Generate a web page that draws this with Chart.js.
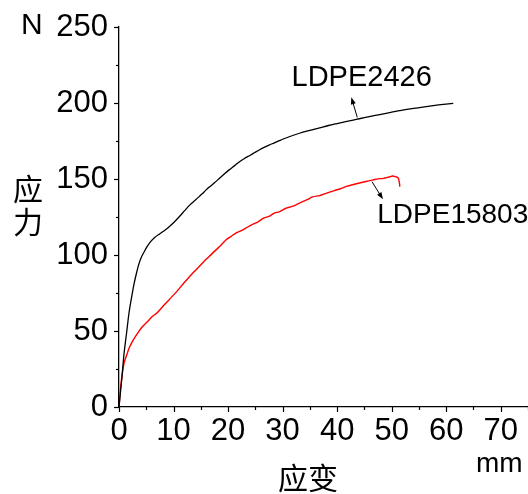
<!DOCTYPE html>
<html>
<head>
<meta charset="utf-8">
<script src="https://cdn.jsdelivr.net/npm/chart.js@4/dist/chart.umd.min.js"></script>
<style>
html,body{margin:0;padding:0;background:#fff;}
#wrap{width:528px;height:494px;position:relative;}
</style>
</head>
<body>
<div id="wrap"><canvas id="c" width="528" height="494"></canvas></div>
<script>
// Data (strain mm, force N)
const blackX = [0,0.5,0.92,1.4,1.84,2.3,2.76,3.2,3.68,4.1,4.6,5.2,5.8,6.6,7.5,8.3,9,10,11,12,13,13.9,14.7,15.6,16.5,17.5,18.4,19.3,20.2,21.2,22.1,23,24,24.9,25.7,26.6,27.5,28.5,29.4,31.2,33.1,35,36.8,38.4,40,41.8,43.5,45.2,47,49.2,51.5,53.7,56,58.6,61.3];
const blackY = [0,18,35,49,62,72,81,88,94.5,98.5,102,105.8,108.8,111.7,114,116,118,121.2,125,129,133,135.8,138.4,141.5,144.5,147.5,150.4,153.3,156,158.8,161.4,163.5,165.5,167.4,169.1,170.8,172.3,173.8,175.2,177.8,180.1,182,183.7,185.2,186.5,187.9,189.2,190.5,191.8,193.4,195,196.3,197.5,198.7,199.8];
const redX = [0,0.3,0.6,0.92,1.4,1.84,2.6,3.4,4.2,5.2,6.1,7,8.4,9.5,10.7,11.9,13,13.8,14.7,15.5,16.2,17.2,18.5,19.6,20.5,21.5,22.4,23.3,24.5,25.5,26.5,27.6,28.5,29.4,30.5,31.9,33.1,34.5,35.5,36.8,38,39.5,40.6,41.7,43,44.5,45.6,46.6,47.5,48.5,49.5,50.2,50.8,51.2,51.4,51.5];
const redY = [0,13,22,28.7,34,38.6,44,48.5,52.5,56.1,59.5,62,67.6,71.8,76.4,81.6,86,89.1,92.4,95.4,97.9,101.4,105.7,109.9,112.1,114.6,116,117.8,120.1,121.8,124.2,125.6,127.6,128.4,130.6,132.1,134.2,136.4,138.2,139.1,140.6,142.4,143.6,145.1,146.4,147.7,148.6,149.4,150.1,150.4,151.3,152,151.4,150.6,148,145];
const xTicks = [0,10,20,30,40,50,60,70];
const yTicks = [0,50,100,150,200,250];
const seriesNames = ['LDPE2426','LDPE15803'];
// annotation anchors in data units: [textX, textY, arrowTailX, arrowTailY, arrowHeadX, arrowHeadY]
const notes = [
  [44.5, 216.4, 43.7, 190.5, 42.6, 203.8],
  [61.2, 126.3, 46.4, 148.2, 48.4, 136.6]
];

const toPts = (xs, ys) => xs.map((x, i) => ({x: x, y: ys[i]}));

const FONT = 'Arial, "Liberation Sans", sans-serif';
const CJK = '"Noto Sans CJK SC", sans-serif';

const decor = {
  id: 'decor',
  afterDraw(chart) {
    const ctx = chart.ctx;
    const xs = chart.scales.x, ys = chart.scales.y;
    ctx.save();
    ctx.strokeStyle = '#000';
    ctx.lineWidth = 1.2;
    for (let v = 0; v <= 75; v += 5) {
      const px = Math.round(xs.getPixelForValue(v)) + 0.5;
      const len = (v % 10 === 0) ? 5 : 3;
      ctx.beginPath(); ctx.moveTo(px, ys.bottom); ctx.lineTo(px, ys.bottom + len); ctx.stroke();
    }
    for (let v = 0; v <= 250; v += 25) {
      const py = Math.round(ys.getPixelForValue(v)) + 0.5;
      const len = (v % 50 === 0) ? 5 : 3;
      ctx.beginPath(); ctx.moveTo(xs.left, py); ctx.lineTo(xs.left - len, py); ctx.stroke();
    }
    ctx.fillStyle = '#000';
    ctx.textAlign = 'center';
    ctx.textBaseline = 'middle';
    notes.forEach((n, i) => {
      ctx.font = (i === 0 ? '29px ' : '28px ') + FONT;
      ctx.fillText(seriesNames[i], xs.getPixelForValue(n[0]), ys.getPixelForValue(n[1]));
      const x1 = xs.getPixelForValue(n[2]), y1 = ys.getPixelForValue(n[3]);
      const x2 = xs.getPixelForValue(n[4]), y2 = ys.getPixelForValue(n[5]);
      const a = Math.atan2(y2 - y1, x2 - x1);
      ctx.lineWidth = 1;
      ctx.beginPath(); ctx.moveTo(x1, y1); ctx.lineTo(x2 - 4 * Math.cos(a), y2 - 4 * Math.sin(a)); ctx.stroke();
      ctx.beginPath();
      ctx.moveTo(x2, y2);
      ctx.lineTo(x2 - 7 * Math.cos(a) + 2.5 * Math.sin(a), y2 - 7 * Math.sin(a) - 2.5 * Math.cos(a));
      ctx.lineTo(x2 - 7 * Math.cos(a) - 2.5 * Math.sin(a), y2 - 7 * Math.sin(a) + 2.5 * Math.cos(a));
      ctx.closePath(); ctx.fill();
    });
    ctx.font = '30px ' + FONT;
    ctx.textAlign = 'left';
    ctx.fillText('N', 21, 26);
    ctx.font = '28px ' + FONT;
    ctx.fillText('mm', 476, 464);
    ctx.font = '30px ' + CJK;
    ctx.textAlign = 'center';
    ctx.fillText('应', 28, 189);
    ctx.fillText('力', 28, 222);
    ctx.fillText('应变', 308, 478);
    ctx.restore();
  }
};

new Chart(document.getElementById('c'), {
  type: 'scatter',
  data: {
    datasets: [
      {label: seriesNames[0], data: toPts(blackX, blackY), showLine: true, borderColor: '#000', borderWidth: 1.3, pointRadius: 0, cubicInterpolationMode: 'monotone'},
      {label: seriesNames[1], data: toPts(redX, redY), showLine: true, borderColor: '#ff0000', borderWidth: 1.4, pointRadius: 0, cubicInterpolationMode: 'monotone'}
    ]
  },
  options: {
    responsive: false,
    animation: false,
    layout: {padding: {top: 27, right: 0, left: 0, bottom: 0}},
    plugins: {legend: {display: false}, tooltip: {enabled: false}},
    scales: {
      x: {
        type: 'linear', min: 0, max: 75,
        afterBuildTicks: s => { s.ticks = xTicks.map(v => ({value: v})); },
        afterFit: s => { s.height = 87; },
        ticks: {color: '#000', font: {family: FONT, size: 31}, padding: 1, maxRotation: 0, autoSkip: false},
        grid: {display: true, drawOnChartArea: false, drawTicks: true, tickLength: 5, tickColor: 'rgba(0,0,0,0)'},
        border: {display: true, color: '#000', width: 1.3}
      },
      y: {
        type: 'linear', min: 0, max: 250,
        afterBuildTicks: s => { s.ticks = yTicks.map(v => ({value: v})); },
        afterFit: s => { s.width = 119; },
        ticks: {color: '#000', font: {family: FONT, size: 31}, padding: 6, autoSkip: false},
        grid: {display: true, drawOnChartArea: false, drawTicks: true, tickLength: 5, tickColor: 'rgba(0,0,0,0)'},
        border: {display: true, color: '#000', width: 1.3}
      }
    }
  },
  plugins: [decor]
});
</script>
</body>
</html>
